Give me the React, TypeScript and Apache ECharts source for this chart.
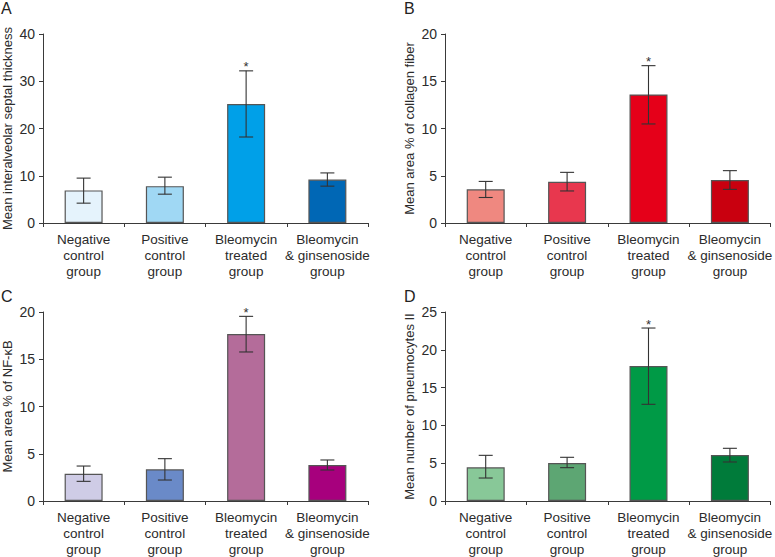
import React, { useEffect, useRef } from "react";
import * as echarts from "echarts";

const categories = [
  "Negative\ncontrol\ngroup",
  "Positive\ncontrol\ngroup",
  "Bleomycin\ntreated\ngroup",
  "Bleomycin\n& ginsenoside\ngroup",
];

const meansA = [6.9, 7.8, 25.2, 9.2];
const lowA = [4.2, 6.1, 18.2, 7.8];
const highA = [9.5, 9.7, 32.2, 10.6];

const meansB = [3.56, 4.37, 13.6, 4.55];
const lowB = [2.7, 3.39, 10.48, 3.56];
const highB = [4.4, 5.36, 16.65, 5.54];

const meansC = [2.89, 3.35, 17.67, 3.81];
const lowC = [2.08, 2.22, 15.77, 3.28];
const highC = [3.7, 4.48, 19.54, 4.34];

const meansD = [4.45, 5.03, 17.86, 6.08];
const lowD = [3.04, 4.41, 12.79, 5.16];
const highD = [6.04, 5.78, 22.88, 6.97];

const significant = [0, 0, 1, 0];

const yTitles = [
  "Mean interalveolar septal thickness",
  "Mean area % of collagen fiber",
  "Mean area % of NF-\u03BAB",
  "Mean number of pneumocytes II",
];
const yMax = [40, 20, 20, 25];
const yInterval = [10, 5, 5, 5];
const panelLetters = ["A", "B", "C", "D"];

const colorsA = ["#e5f3fc", "#a0d8f4", "#00a0e8", "#0067b5"];
const colorsB = ["#ef8880", "#e8374e", "#e50019", "#c9000f"];
const colorsC = ["#cfcce6", "#6a8ac8", "#b46c9a", "#a7007d"];
const colorsD = ["#88c898", "#5da673", "#009a46", "#007b3a"];

const FONT = "'Liberation Sans', Arial, sans-serif";
const TEXT = "#2b2b2b";
const AXIS = "#3a3a3a";

export default function App() {
  const ref = useRef<HTMLDivElement>(null);

  useEffect(() => {
    document.body.style.margin = "0";
    if (!ref.current) return;
    const chart = echarts.init(ref.current, undefined, { renderer: "svg" });

    const panels = [
      { means: meansA, low: lowA, high: highA, colors: colorsA },
      { means: meansB, low: lowB, high: highB, colors: colorsB },
      { means: meansC, low: lowC, high: highC, colors: colorsC },
      { means: meansD, low: lowD, high: highD, colors: colorsD },
    ];

    const gridPos = [
      { left: 42, top: 34, width: 326, height: 189 },
      { left: 445, top: 34, width: 328, height: 189 },
      { left: 42, top: 312, width: 326, height: 189 },
      { left: 445, top: 312, width: 328, height: 189 },
    ];
    const letterPos = [
      { left: 1, top: 0 },
      { left: 404, top: 0 },
      { left: 1, top: 288 },
      { left: 404, top: 288 },
    ];

    const grid = gridPos.map((g) => ({ ...g, containLabel: false }));

    const xAxis = panels.map((_, i) => ({
      type: "category",
      gridIndex: i,
      data: categories,
      boundaryGap: true,
      axisLine: { show: true, lineStyle: { color: AXIS, width: 1 } },
      axisTick: { show: true, length: 4, lineStyle: { color: AXIS } },
      axisLabel: {
        interval: 0,
        color: TEXT,
        fontFamily: FONT,
        fontSize: 13.5,
        lineHeight: 16,
        margin: 8,
        align: "center",
      },
    }));

    const yAxis = panels.map((_, i) => ({
      type: "value",
      gridIndex: i,
      min: 0,
      max: yMax[i],
      interval: yInterval[i],
      name: yTitles[i],
      nameLocation: "middle",
      nameGap: 29,
      nameTextStyle: { color: TEXT, fontFamily: FONT, fontSize: 13 },
      axisLine: { show: true, lineStyle: { color: AXIS, width: 1 } },
      axisTick: { show: true, length: 4, lineStyle: { color: AXIS } },
      splitLine: { show: false },
      axisLabel: { color: TEXT, fontFamily: FONT, fontSize: 14, margin: 8 },
    }));

    const series: any[] = [];
    panels.forEach((p, i) => {
      series.push({
        type: "bar",
        xAxisIndex: i,
        yAxisIndex: i,
        barWidth: 38,
        data: p.means.map((v, k) => ({
          value: v,
          itemStyle: {
            color: p.colors[k],
            borderColor: "#555555",
            borderWidth: 1.2,
          },
        })),
      });
      series.push({
        type: "custom",
        xAxisIndex: i,
        yAxisIndex: i,
        z: 10,
        data: p.means.map((_, k) => [k, p.low[k], p.high[k], significant[k]]),
        renderItem: (params: any, api: any) => {
          const idx = api.value(0);
          const lo = api.coord([idx, api.value(1)]);
          const hi = api.coord([idx, api.value(2)]);
          const half = 7;
          const style = { stroke: "#333333", lineWidth: 1.1 };
          const children: any[] = [
            { type: "line", shape: { x1: hi[0], y1: hi[1], x2: lo[0], y2: lo[1] }, style },
            { type: "line", shape: { x1: hi[0] - half, y1: hi[1], x2: hi[0] + half, y2: hi[1] }, style },
            { type: "line", shape: { x1: lo[0] - half, y1: lo[1], x2: lo[0] + half, y2: lo[1] }, style },
          ];
          if (api.value(3) === 1) {
            children.push({
              type: "text",
              x: hi[0],
              y: hi[1] - 4,
              style: {
                text: "*",
                fill: "#333333",
                font: `13px ${FONT}`,
                align: "center",
                verticalAlign: "middle",
              },
            });
          }
          return { type: "group", children };
        },
      });
    });

    const graphic = panelLetters.map((l, i) => ({
      type: "text",
      left: letterPos[i].left,
      top: letterPos[i].top,
      style: { text: l, fill: "#222222", font: `16px ${FONT}` },
    }));

    chart.setOption({
      animation: false,
      backgroundColor: "#ffffff",
      grid,
      xAxis,
      yAxis,
      series,
      graphic,
    });

    return () => chart.dispose();
  }, []);

  return (
    <div
      ref={ref}
      style={{ position: "absolute", left: 0, top: 0, width: 775, height: 557 }}
    />
  );
}
